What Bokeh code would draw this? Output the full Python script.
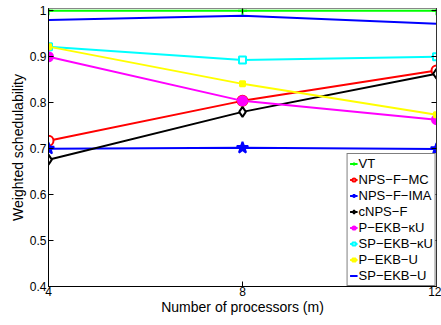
from bokeh.plotting import figure
from bokeh.models import LinearAxis, FixedTicker, CustomJSTickFormatter, Range1d, Legend
from bokeh.embed import file_html
from bokeh.resources import INLINE

processors = [4, 8, 12]
vt = [1.0, 1.0, 1.0]
nps_f_mc = [0.717, 0.804, 0.870]
nps_f_ima = [0.700, 0.702, 0.699]
cnps_f = [0.676, 0.780, 0.863]
p_ekb_ku = [0.900, 0.804, 0.763]
sp_ekb_ku = [0.922, 0.893, 0.900]
p_ekb_u = [0.922, 0.841, 0.774]
sp_ekb_u = [0.980, 0.989, 0.972]

x_ticks = [4, 8, 12]
y_ticks = [0.4, 0.5, 0.6, 0.7, 0.8, 0.9, 1.0]

FONT = "Liberation Sans"

p = figure(width=441, height=325, output_backend="svg", toolbar_location=None,
           x_range=Range1d(4, 12), y_range=Range1d(0.4, 1.005),
           min_border_left=48, min_border_right=5, min_border_top=8, min_border_bottom=39)
p.background_fill_color = "white"
p.border_fill_color = "white"
p.outline_line_color = "black"
p.outline_line_width = 1
p.xgrid.visible = False
p.ygrid.visible = False

fmt = CustomJSTickFormatter(code="return Math.abs(tick-1)<1e-9 ? '1' : tick.toFixed(1);")
blank = CustomJSTickFormatter(code="return '';")

for ax in [p.xaxis[0], p.yaxis[0]]:
    ax.major_tick_in = 5
    ax.major_tick_out = 0
    ax.minor_tick_line_color = None
    ax.axis_line_color = "black"
    ax.major_tick_line_color = "black"
    ax.major_label_text_font = FONT
    ax.major_label_text_font_size = "12px"
    ax.major_label_text_color = "black"
    ax.axis_label_text_font = FONT
    ax.axis_label_text_font_size = "14px"
    ax.axis_label_text_font_style = "normal"
    ax.axis_label_text_color = "black"

p.xaxis[0].ticker = FixedTicker(ticks=x_ticks)
p.yaxis[0].ticker = FixedTicker(ticks=y_ticks)
p.yaxis[0].formatter = fmt
p.xaxis[0].axis_label = "Number of processors (m)"
p.yaxis[0].axis_label = "Weighted schedulability"
p.xaxis[0].major_label_standoff = 0
p.xaxis[0].axis_label_standoff = 0
p.yaxis[0].major_label_standoff = 2
p.yaxis[0].axis_label_standoff = 1

right = LinearAxis(ticker=FixedTicker(ticks=y_ticks), formatter=blank, major_tick_in=5,
                   major_tick_out=0, minor_tick_line_color=None, major_label_standoff=0,
                   axis_line_color="#333333")
p.add_layout(right, "right")
top = LinearAxis(ticker=FixedTicker(ticks=x_ticks), formatter=blank, major_tick_in=5,
                 major_tick_out=0, minor_tick_line_color=None, major_label_standoff=0,
                 axis_line_color="#888888")
p.add_layout(top, "above")

series = [
    ("VT", vt, "#00ff00", "cross", 9, True),
    ("NPS\u2212F\u2212MC", nps_f_mc, "#ff0000", "circle", 10, False),
    ("NPS\u2212F\u2212IMA", nps_f_ima, "#0000ff", "star", 12, True),
    ("cNPS\u2212F", cnps_f, "#000000", "diamond", 10, False),
    ("P\u2212EKB\u2212\u03baU", p_ekb_ku, "#ff00ff", "circle", 9, True),
    ("SP\u2212EKB\u2212\u03baU", sp_ekb_ku, "#00ffff", "square", 7, False),
    ("P\u2212EKB\u2212U", p_ekb_u, "#ffff00", "square", 5, True),
    ("SP\u2212EKB\u2212U", sp_ekb_u, "#0000ff", None, 0, False),
]

items = []
for name, ys, color, marker, size, filled in series:
    rs = [p.line(processors, ys, line_color=color, line_width=2)]
    if marker is not None:
        rs.append(p.scatter(processors, ys, marker=marker, size=size, line_color=color,
                            line_width=2, fill_color=color if filled else "white"))
    items.append((name, rs))

legend = Legend(items=items, location="bottom_right")
legend.label_text_font = FONT
legend.label_text_font_size = "13px"
legend.label_text_color = "black"
legend.label_height = 15
legend.glyph_height = 15
legend.glyph_width = 8
legend.label_standoff = 1
legend.spacing = 1
legend.padding = 2
legend.margin = 0
legend.border_line_color = "black"
legend.border_line_width = 1
legend.background_fill_color = "white"
legend.background_fill_alpha = 1
p.add_layout(legend, "center")

open("out.html", "w").write(file_html(p, INLINE))
